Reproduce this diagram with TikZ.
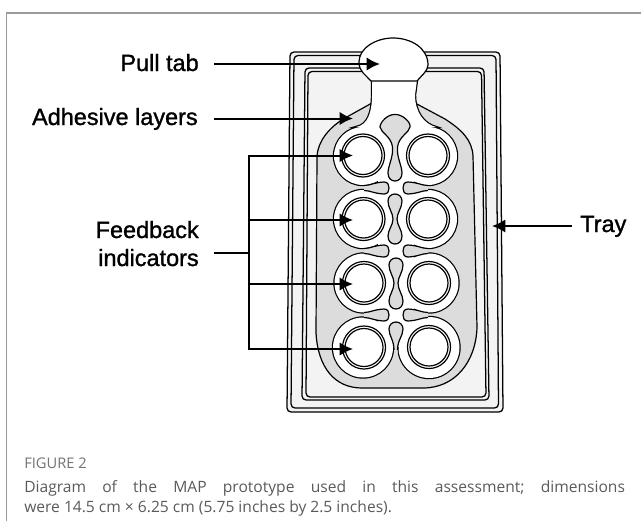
\documentclass[tikz,border=0pt]{standalone}
\usepackage{fontspec}
\setmainfont{Liberation Sans}
\newfontfamily\labelfont[FakeBold=1.2]{Liberation Sans}
\newfontfamily\capfont{Open Sans}
\usetikzlibrary{arrows.meta}
\definecolor{tray}{HTML}{F3F3F3}
\definecolor{adh}{HTML}{DCDCDC}
\definecolor{capgray}{HTML}{5A5A5A}
\definecolor{rulegray}{HTML}{9A9A9A}
\tikzset{
  lab/.style={font=\labelfont\fontsize{17.6}{21}\selectfont,inner sep=0pt,anchor=base east},
  capt/.style={font=\capfont\fontsize{11.7}{14}\selectfont,text=capgray,inner sep=0pt,anchor=base west},
  trayline/.style={draw=black,line width=0.95pt,rounded corners=3pt},
  outline/.style={draw=black,line width=0.9pt},
  pointer/.style={draw=black,line width=1.5pt,-{Latex[length=10pt,width=10pt]}},
  bracket/.style={draw=black,line width=1.5pt},
}
\newcommand{\lobes}[1]{%
  \path[#1] (363,156) circle (29) (428,156) circle (29)
            (363,219) circle (29) (428,219) circle (29)
            (364,283) circle (29.5) (429,283) circle (29.5)
            (363,347.5) circle (30) (429,347.5) circle (30.5);
}
\newcommand{\neckshape}{(372,80) -- (372,95) .. controls (372,112) and (368,125) .. (356,127) -- (436,127) .. controls (424,124) and (415,112) .. (415,95) -- (417,80) -- cycle}
\newcommand{\tongueL}[1]{%
  \path[fill=adh] (364,#1-2.5) .. controls (370,#1-2.5) and (374,#1-5.5) .. (384,#1-6) .. controls (388,#1-6) and (389,#1-3) .. (389,#1) .. controls (389,#1+3) and (388,#1+6) .. (384,#1+6) .. controls (374,#1+5.5) and (370,#1+2.5) .. (364,#1+2.5) -- cycle;
  \draw[outline] (364,#1-2.5) .. controls (370,#1-2.5) and (374,#1-5.5) .. (384,#1-6) .. controls (388,#1-6) and (389,#1-3) .. (389,#1) .. controls (389,#1+3) and (388,#1+6) .. (384,#1+6) .. controls (374,#1+5.5) and (370,#1+2.5) .. (364,#1+2.5);
}
\newcommand{\tongueR}[1]{%
  \path[fill=adh] (428,#1-2.5) .. controls (422,#1-2.5) and (418,#1-5.5) .. (408,#1-6) .. controls (404,#1-6) and (403,#1-3) .. (403,#1) .. controls (403,#1+3) and (404,#1+6) .. (408,#1+6) .. controls (418,#1+5.5) and (422,#1+2.5) .. (428,#1+2.5) -- cycle;
  \draw[outline] (428,#1-2.5) .. controls (422,#1-2.5) and (418,#1-5.5) .. (408,#1-6) .. controls (404,#1-6) and (403,#1-3) .. (403,#1) .. controls (403,#1+3) and (404,#1+6) .. (408,#1+6) .. controls (418,#1+5.5) and (422,#1+2.5) .. (428,#1+2.5);
}
\newcommand{\well}[2]{%
  \draw[outline,fill=white] (#1,#2) circle (21.5);
  \draw[outline,fill=white] (#1,#2) circle (19);
}
\begin{document}
\begin{tikzpicture}[x=0.75pt,y=-0.75pt]
\useasboundingbox (0,0) rectangle (641,521);
% page frame
\draw[rulegray,line width=0.8pt] (6.5,521) -- (6.5,13) -- (641,13);
% tray
\draw[trayline,fill=tray] (287,412) -- (290,52) -- (500,52) -- (503,412) -- cycle;
\draw[trayline] (291,408) -- (294,55.5) -- (496,55.5) -- (498.5,408) -- cycle;
\draw[trayline] (302,400) -- (305,68) -- (484,68) -- (489,400) -- cycle;
\draw[trayline] (306,397) -- (308,71.5) -- (481.5,71.5) -- (486,397) -- cycle;
% adhesive layer
\draw[outline,fill=adh] (372,103) -- (345,118) .. controls (328,128) and (318,142) .. (317,156)
  -- (316,333) .. controls (318,368) and (335,388) .. (362,388) -- (423,388)
  .. controls (455,388) and (476,362) .. (477,327) -- (473,156)
  .. controls (472,140) and (462,130) .. (445,119) -- (415,103) -- cycle;
% white top layer: outline pass, then fill pass
\lobes{draw=black,line width=1.8pt}
\draw[draw=black,line width=1.8pt] \neckshape;
\lobes{fill=white}
\fill[white] \neckshape;
\fill[white] (363,127) rectangle (428,156);
\fill[white] (378,150) rectangle (414,347);
% gray notches and islands
\tongueL{188}\tongueL{251}\tongueL{315}
\tongueR{188}\tongueR{251}\tongueR{315}
\draw[outline,fill=adh] (395,114.5) .. controls (402,114) and (411,122) .. (410,127)
  .. controls (409,133) and (399,136) .. (397.5,147) .. controls (396.5,157) and (402,166) .. (402,173)
  .. controls (402,178) and (399,181) .. (395,181) .. controls (391,181) and (388,178) .. (388,173)
  .. controls (388,166) and (393.5,157) .. (392.5,147) .. controls (391,136) and (381,133) .. (380,127)
  .. controls (380,122) and (388,114) .. (395,114.5) -- cycle;
\draw[outline,fill=adh] (395,194) .. controls (399,194) and (402,197) .. (402,201)
  .. controls (402,208) and (397,213) .. (397,219) .. controls (397,225) and (402,230) .. (402,236)
  .. controls (402,241) and (399,244) .. (395,244) .. controls (391,244) and (388,241) .. (388,236)
  .. controls (388,230) and (393,225) .. (393,219) .. controls (393,213) and (388,208) .. (388,201)
  .. controls (388,197) and (391,194) .. (395,194) -- cycle;
\draw[outline,fill=adh] (396,258) .. controls (400,258) and (403,261) .. (403,265)
  .. controls (403,272) and (398,277) .. (398,283) .. controls (398,290) and (403,295) .. (403,301)
  .. controls (403,306) and (400,309) .. (396,309) .. controls (392,309) and (389,306) .. (389,301)
  .. controls (389,295) and (394,290) .. (394,283) .. controls (394,277) and (389,272) .. (389,265)
  .. controls (389,261) and (392,258) .. (396,258) -- cycle;
\path[fill=adh] (396,322) .. controls (400,322) and (403,325) .. (403,329)
  .. controls (403,336) and (397.5,340) .. (397.5,348) -- (397.5,372) -- (394,372) -- (394,348)
  .. controls (394,340) and (389,336) .. (389,329) .. controls (389,325) and (392,322) .. (396,322) -- cycle;
\draw[outline] (394,350) .. controls (394,340) and (389,336) .. (389,329)
  .. controls (389,325) and (392,322) .. (396,322) .. controls (400,322) and (403,325) .. (403,329)
  .. controls (403,336) and (397.5,340) .. (397.5,350);
% wells
\well{363}{155.5}\well{428}{155.5}
\well{363.5}{219}\well{428}{219}
\well{364}{283}\well{429}{283}
\well{364}{347.5}\well{429}{347}
% pull tab
\draw[outline,fill=white] (371,81) .. controls (366,75) and (359,72) .. (359,62)
  .. controls (359,48) and (376,38) .. (393,38) .. controls (411,38) and (428,48) .. (428,65)
  .. controls (428,71) and (421,76) .. (417,81) -- cycle;
% labels
\node[lab] (pull) at (199,71) {Pull tab};
\node[lab] (adhesive) at (198,125) {Adhesive layers};
\node[lab] (feedback) at (199,238) {Feedback};
\node[lab] (indicators) at (199,266) {indicators};
\node[lab,anchor=base west] (traylabel) at (580,232) {Tray};
% connector ends
\coordinate (pullstart) at (214,64);
\coordinate (pulltip) at (380,64);
\coordinate (adhstart) at (214,118.5);
\coordinate (adhtip) at (353,118.5);
\coordinate (traystart) at (572,226);
\coordinate (traytip) at (492,226);
\coordinate (stem) at (214,253);
\coordinate (joint) at (249,253);
\coordinate (bartop) at (249,155.5);
\coordinate (barbot) at (249,349);
\coordinate (bartwo) at (249,220);
\coordinate (barthree) at (249,284);
\coordinate (tipone) at (353,155.5);
\coordinate (tiptwo) at (353,220);
\coordinate (tipthree) at (353,284);
\coordinate (tipfour) at (353,349);
\draw[pointer] (pullstart) -- (pulltip);
\draw[pointer] (adhstart) -- (adhtip);
\draw[pointer] (traystart) -- (traytip);
\draw[bracket] (stem) -- (joint);
\draw[bracket,line cap=rect] (bartop) -- (barbot);
\draw[pointer] (bartop) -- (tipone);
\draw[pointer] (bartwo) -- (tiptwo);
\draw[pointer] (barthree) -- (tipthree);
\draw[pointer] (barbot) -- (tipfour);
% caption
\node[capt,text=capgray!85!white,font=\capfont\fontsize{11}{13}\selectfont] (figlabel) at (24,468) {FIGURE 2};
\node[capt] (capone) at (24,492) {\frenchspacing\makebox[450.5pt][s]{Diagram of the MAP prototype used in this assessment; dimensions}};
\node[capt] (captwo) at (24,512) {were 14.5 cm × 6.25 cm (5.75 inches by 2.5 inches).};
\end{tikzpicture}
\end{document}
